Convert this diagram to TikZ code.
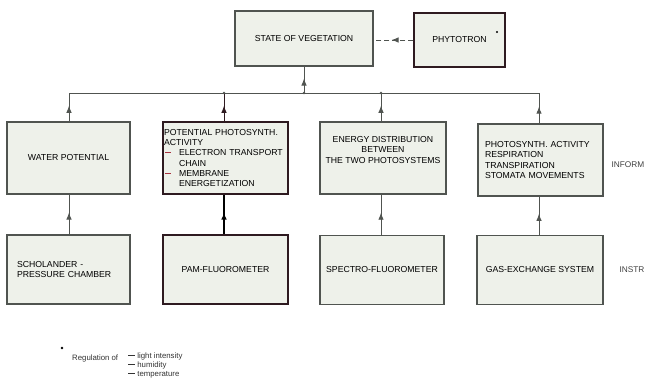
\documentclass[tikz,border=0pt]{standalone}
\usepackage{fontspec}
\setmainfont{Liberation Sans}
\usetikzlibrary{arrows.meta,decorations.markings,calc}
\definecolor{boxfill}{HTML}{EEF1EA}
\definecolor{boxline}{HTML}{505450}
\definecolor{darkline}{HTML}{2E1A20}
\definecolor{dashred}{HTML}{A8323F}
\begin{document}
\begin{tikzpicture}[x=1pt,y=-1pt,
  box/.style={draw=boxline,line width=1.3pt,fill=boxfill,inner sep=2pt,
    font=\fontsize{8.7}{10.2}\selectfont},
  darkbox/.style={box,draw=darkline},
  conn/.style={line width=0.9pt,draw=boxline},
  midarrow/.style={conn,postaction={decorate},decoration={markings,
    mark=at position 0.55 with {\arrow{Latex[length=7pt,width=5.5pt]}}}},
  side/.style={font=\fontsize{8.3}{9}\selectfont,text=black!75},
  foot/.style={font=\fontsize{7.8}{9}\selectfont,inner sep=0pt,text=black!80}]
\useasboundingbox (0,0) rectangle (652,382);

% top row
\node[box,minimum width=138pt,minimum height=55pt] (state) at (304,38.5) {STATE OF VEGETATION};
\node[darkbox,minimum width=91pt,minimum height=54pt] (phyto) at (459.5,40) {PHYTOTRON};
\fill (497,32) circle (1.2pt);

% middle row
\node[box,minimum width=123pt,minimum height=72pt] (m1) at (68.5,158) {WATER POTENTIAL};
\node[darkbox,minimum width=125pt,minimum height=72pt,text width=123pt,inner sep=1pt,align=left] (m2) at (225.5,158)
  {POTENTIAL PHOTOSYNTH.\\ACTIVITY\\
   \makebox[15pt][l]{\hspace{1pt}\textcolor{dashred}{\rule[2.6pt]{6pt}{1pt}}}ELECTRON TRANSPORT\\
   \hspace*{15pt}CHAIN\\
   \makebox[15pt][l]{\hspace{1pt}\textcolor{dashred}{\rule[2.6pt]{6pt}{1pt}}}MEMBRANE\\
   \hspace*{15pt}ENERGETIZATION};
\node[box,minimum width=126pt,minimum height=72pt,align=center] (m3) at (383,158)
  {ENERGY DISTRIBUTION\\BETWEEN\\THE TWO PHOTOSYSTEMS\\[6pt]};
\node[box,minimum width=125pt,minimum height=72pt,text width=111pt,align=left] (m4) at (540.5,160)
  {PHOTOSYNTH. ACTIVITY\\RESPIRATION\\TRANSPIRATION\\STOMATA MOVEMENTS};

% bottom row
\node[box,minimum width=123pt,minimum height=69pt,text width=103pt,align=left] (b1) at (68.5,269.5)
  {SCHOLANDER -\\PRESSURE CHAMBER};
\node[darkbox,minimum width=125pt,minimum height=69pt] (b2) at (225.5,269.5) {PAM-FLUOROMETER};
\node[box,minimum width=124pt,minimum height=69pt] (b3) at (382,270) {SPECTRO-FLUOROMETER};
\node[box,minimum width=126pt,minimum height=69pt] (b4) at (540,270) {GAS-EXCHANGE SYSTEM};

% side labels
\node[side,anchor=west] (inform) at (608,165) {INFORM};
\node[side] (instr) at (632,270) {INSTR};

% bus
\coordinate (j1) at (69,93);
\coordinate (j2) at (224,93);
\coordinate (j3) at (381,93);
\coordinate (j4) at (539,93);
\coordinate (jt) at (304,93);
\draw[conn] (j1) -- (j4);
\draw[midarrow] (jt) -- (state.south);
\draw[midarrow] (m1.north -| j1) -- (j1);
\draw[midarrow,draw=darkline] (m2.north -| j2) -- (j2);
\draw[midarrow] (m3.north -| j3) -- (j3);
\draw[midarrow] (m4.north -| j4) -- (j4);
\foreach \j in {jt,j2,j3}{\fill[boxline] (\j) circle (1.3pt);}

% instrument to information
\draw[midarrow] (b1.north -| j1) -- (m1.south -| j1);
\draw[midarrow,draw=black,line width=1.1pt] (b2.north -| j2) -- (m2.south -| j2);
\draw[midarrow] (b3.north -| j3) -- (m3.south -| j3);
\draw[midarrow] (b4.north -| j4) -- (m4.south -| j4);

% phytotron dashed
\draw[conn,dashed,dash pattern=on 5pt off 3pt,postaction={decorate},
  decoration={markings,mark=at position 0.55 with {\arrow{Latex[length=7pt,width=5.5pt]}}}]
  (phyto.west) -- (state.east |- phyto.west);

% footnote
\fill (62,348) circle (1.3pt);
\node[foot,anchor=west] (reg) at (72,358) {Regulation of};
\node[foot,anchor=north west,align=left] (list) at (128,352.5)
  {\rule[2.3pt]{7pt}{0.6pt} light intensity\\\rule[2.3pt]{7pt}{0.6pt} humidity\\\rule[2.3pt]{7pt}{0.6pt} temperature};
\end{tikzpicture}
\end{document}
